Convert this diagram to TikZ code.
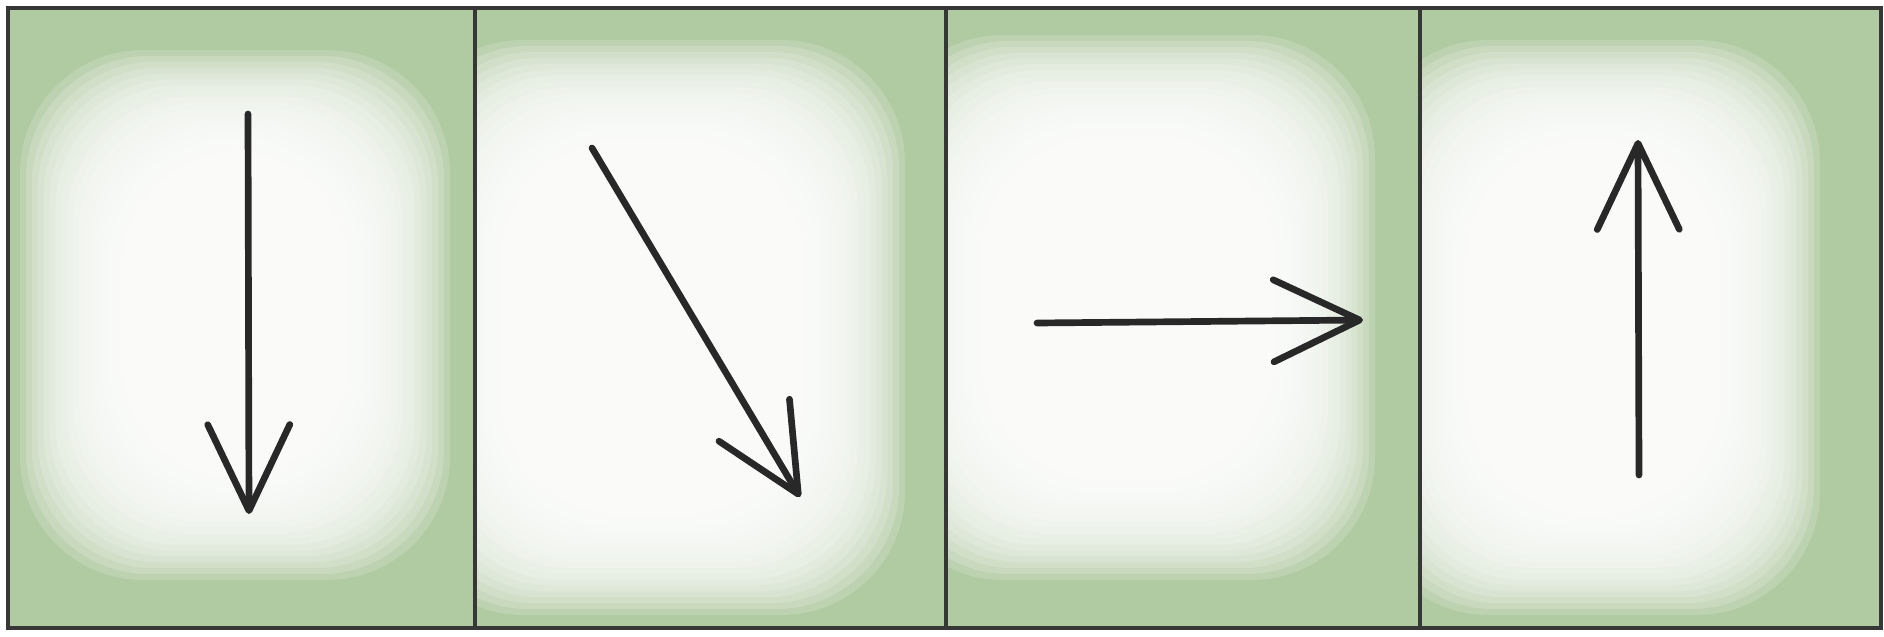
\documentclass[tikz,border=0pt]{standalone}
\usetikzlibrary{arrows.meta}
\definecolor{wash}{RGB}{176,202,162}
\definecolor{ink}{RGB}{40,40,40}
\definecolor{frame}{RGB}{55,55,55}
\tikzset{
  arr/.style={draw=ink, line width=1.9pt, line cap=round,
    -{Straight Barb[length=0.86cm, width=0.82cm, line cap=round, line join=round]}},
  framestyle/.style={draw=frame, line width=1.2pt},
  glow/.style={fill=white, opacity=0.17}
}
\begin{document}
\begin{tikzpicture}[x=0.01cm, y=-0.01cm]
\useasboundingbox (0,0) rectangle (1884,636);
\fill[white] (0,0) rectangle (1884,636);
% green wash panels
\fill[wash] (8,8) rectangle (1881,628);
% soft white centres per panel: panel x-range, core x1/y1/x2/y2, fade width
\foreach \pl/\pr/\xa/\ya/\xb/\yb/\f in {8/475/120/150/350/480/100, 475/946/500/140/805/515/100, 946/1420/980/135/1275/480/100, 1420/1881/1465/140/1720/515/100}{
  \begin{scope}
    \clip (\pl,8) rectangle (\pr,628);
    \foreach \k in {0,...,17}{
      \fill[glow, rounded corners=35]
        ({\xa-\f+\f*\k/17},{\ya-\f+\f*\k/17}) rectangle ({\xb+\f-\f*\k/17},{\yb+\f-\f*\k/17});
    }
  \end{scope}
}
% frame and dividers
\coordinate (tl) at (8,8);
\coordinate (br) at (1881,628);
\draw[framestyle] (tl) rectangle (br);
\coordinate (d1t) at (475,8);   \coordinate (d1b) at (475,628);
\coordinate (d2t) at (946,8);   \coordinate (d2b) at (946,628);
\coordinate (d3t) at (1420,8);  \coordinate (d3b) at (1420,628);
\draw[framestyle] (d1t) -- (d1b);
\draw[framestyle] (d2t) -- (d2b);
\draw[framestyle] (d3t) -- (d3b);
% arrows
\coordinate (a1s) at (248,114);  \coordinate (a1e) at (249,514);
\coordinate (a2s) at (592,148);  \coordinate (a2e) at (800,497);
\coordinate (a3s) at (1037,323); \coordinate (a3e) at (1363,320);
\coordinate (a4s) at (1639,475); \coordinate (a4e) at (1638,140);
\draw[arr] (a1s) -- (a1e);
\draw[arr] (a2s) -- (a2e);
\draw[arr] (a3s) -- (a3e);
\draw[arr] (a4s) -- (a4e);
\end{tikzpicture}
\end{document}
